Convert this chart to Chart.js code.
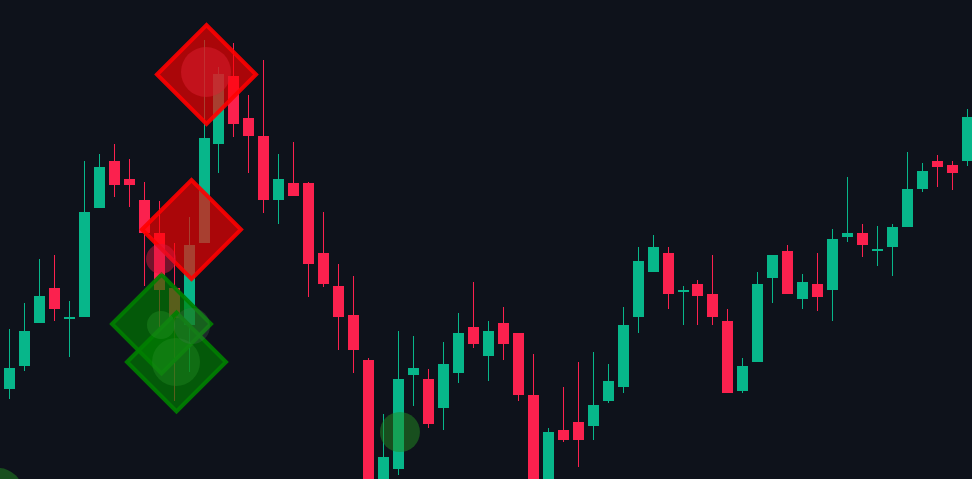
<!DOCTYPE html>
<html>
<head>
<meta charset="utf-8">
<title>Candles</title>
<script src="https://cdn.jsdelivr.net/npm/chart.js@4"></script>
<style>
  html, body { margin: 0; padding: 0; background: #0e121b; overflow: hidden; }
  canvas { display: block; }
</style>
</head>
<body>
<canvas id="candleChart" width="972" height="479"></canvas>
<script>
// candle values
const opens = [90,113,156,191,160,162,271,318,300,279,246,191,154,236,335,403,361,343,279,296,296,226,193,164,119,-21,10,104,100,71,106,152,123,156,146,84,-21,49,57,53,78,92,162,207,226,187,195,185,158,88,117,201,228,180,195,189,242,246,228,232,252,290,318,314,318];
const closes = [111,148,183,170,162,267,312,294,294,246,189,161,234,341,405,355,343,279,300,283,215,195,162,129,-41,22,100,111,55,115,146,135,148,135,84,-21,47,39,39,74,98,154,218,232,185,189,183,162,86,113,195,224,185,197,182,240,246,234,230,252,290,308,312,306,362];
const highs = [150,176,220,224,178,318,325,335,320,297,278,236,262,439,412,436,384,419,325,337,297,267,215,203,121,65,148,143,110,137,166,197,158,172,146,125,51,92,117,127,115,172,232,244,232,193,199,224,170,121,207,224,234,205,226,250,302,255,253,255,327,316,324,318,370];
const lows = [80,108,156,158,122,162,271,282,272,193,152,78,107,236,306,342,306,266,255,283,182,192,129,106,-51,-31,4,73,51,49,96,131,98,119,78,-31,-31,37,12,39,76,86,146,207,170,154,154,154,86,86,117,176,185,170,168,158,237,222,213,203,252,287,292,289,313];

// trade markers
const sellX = [13.167, 12.165];
const sellY = [404.5, 249.5];
const buyX = [10.161, 11.163];
const buyY = [155, 117];
const redDotX = [13.134, 10.128];
const redDotY = [407, 220];
const greenDotX = [10.128, 11.13, 12.198, 26.09, -0.761];
const greenDotY = [154, 117, 153, 47, -14];

const upColor = '#07b68a';
const downColor = '#fb214e';

const candleColors = opens.map((o, i) => (closes[i] >= o ? upColor : downColor));
const toPoints = (xs, ys) => xs.map((x, i) => ({ x: x, y: ys[i] }));

// keep candles on whole pixels so they stay sharp
const snapBars = {
  id: 'snapBars',
  beforeDatasetsDraw(chart) {
    chart.getSortedVisibleDatasetMetas().forEach(meta => {
      if (meta.type !== 'bar') return;
      meta.data.forEach(bar => { bar.x = Math.floor(bar.x) + 0.5; });
    });
  }
};

new Chart(document.getElementById('candleChart').getContext('2d'), {
  type: 'bar',
  data: {
    datasets: [
      {
        type: 'scatter',
        order: 1,
        data: toPoints(greenDotX, greenDotY),
        backgroundColor: [
          'rgba(34,139,34,0.45)',
          'rgba(34,139,34,0.42)',
          'rgba(80,120,90,0.25)',
          'rgba(34,139,34,0.5)',
          'rgba(34,139,34,0.5)'
        ],
        borderWidth: 0,
        pointRadius: [14, 24, 18, 20, 25]
      },
      {
        type: 'scatter',
        order: 2,
        data: toPoints(redDotX, redDotY),
        backgroundColor: ['rgba(220,30,47,0.5)', 'rgba(220,20,60,0.5)'],
        borderWidth: 0,
        pointRadius: [25, 15]
      },
      {
        type: 'scatter',
        order: 3,
        data: toPoints(buyX, buyY),
        pointStyle: 'rectRot',
        pointRadius: 49.5,
        backgroundColor: 'rgba(0,128,0,0.65)',
        borderColor: 'rgba(0,128,0,0.9)',
        borderWidth: 4
      },
      {
        type: 'scatter',
        order: 4,
        data: toPoints(sellX, sellY),
        pointStyle: 'rectRot',
        pointRadius: 49.5,
        backgroundColor: 'rgba(255,0,0,0.65)',
        borderColor: 'rgba(255,0,0,0.9)',
        borderWidth: 4
      },
      {
        order: 5,
        data: opens.map((o, i) => ({ x: i, y: [o, closes[i]] })),
        backgroundColor: candleColors,
        barThickness: 11,
        grouped: false,
        inflateAmount: 0
      },
      {
        order: 6,
        data: lows.map((l, i) => ({ x: i, y: [l, highs[i]] })),
        backgroundColor: candleColors,
        barThickness: 1,
        grouped: false,
        inflateAmount: 0
      }
    ]
  },
  options: {
    responsive: false,
    animation: false,
    layout: { padding: 0, autoPadding: false },
    plugins: {
      legend: { display: false },
      tooltip: { enabled: false }
    },
    scales: {
      x: { type: 'linear', display: false, offset: false, min: -0.62774, max: 64.3043 },
      y: { display: false, min: 0, max: 479 }
    }
  },
  plugins: [snapBars]
});
</script>
</body>
</html>
